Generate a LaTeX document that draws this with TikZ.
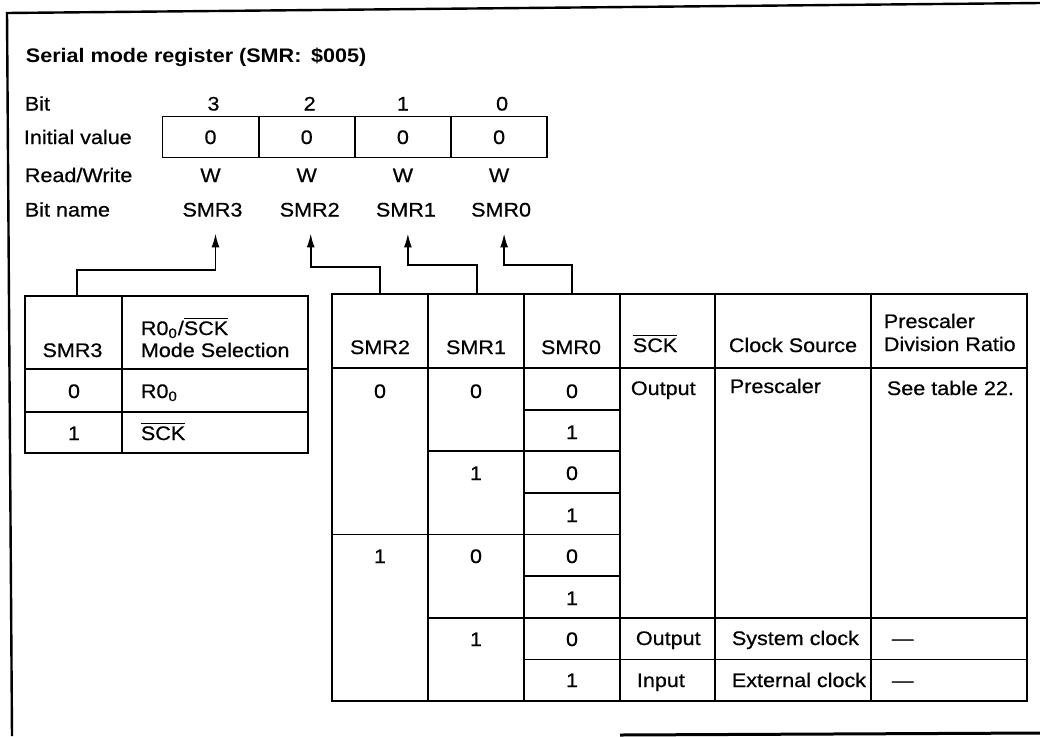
\documentclass[tikz,border=0pt]{standalone}
\usepackage{fontspec}
\setmainfont{Liberation Sans}[FakeStretch=1.10, UprightFeatures={FakeBold=0.6}]
\usetikzlibrary{arrows.meta,positioning}

\begin{document}
\begin{tikzpicture}[x=0.5pt,y=-0.5pt,>={Latex[length=7pt,width=4pt]},line width=0.9pt]
		\tikzstyle{txt}=[inner sep=0pt, text height=7pt, text depth=0pt, font=\fontsize{9.8}{11}\selectfont]
		\tikzstyle{regcell}=[txt, draw, minimum width=48.1pt, minimum height=20.5pt]
		\tikzstyle{borderline}=[line width=1.2pt]

		\useasboundingbox (0,0) rectangle (1040,736);

		% frame
		\draw[borderline] (6,13) -- (1040,3);
		\draw[borderline] (7,12) -- (12,736);
		\draw[borderline, line width=1.5pt] (620,735) -- (1040,733);

		\node [txt, anchor=west, font=\fontsize{9.8}{11}\selectfont\bfseries] (title) at (25,55) {Serial mode register (SMR:\enspace\$005)};

		% row labels
		\node [txt, anchor=west] (lbit) at (24,103.5) {Bit};
		\node [txt, anchor=west] (linit) at (23,137) {Initial value};
		\node [txt, anchor=west] (lrw) at (24,175) {Read/Write};
		\node [txt, anchor=west] (lname) at (24,209.5) {Bit name};

		% register
		\node [regcell] (v3) at (210.5,137) {0};
		\node [regcell, node distance=48.1pt] (v2) [right of=v3] {0};
		\node [regcell, node distance=48.1pt] (v1) [right of=v2] {0};
		\node [regcell, node distance=48.1pt] (v0) [right of=v1] {0};
		\node [txt, node distance=16.75pt] (b3) [above of=v3, xshift=1.5pt] {3};
		\node [txt, node distance=16.75pt] (b2) [above of=v2, xshift=1.5pt] {2};
		\node [txt, node distance=16.75pt] (b1) [above of=v1] {1};
		\node [txt, node distance=16.75pt] (b0) [above of=v0, xshift=1.5pt] {0};
		\node [txt, node distance=19pt] (w3) [below of=v3] {W};
		\node [txt, node distance=19pt] (w2) [below of=v2] {W};
		\node [txt, node distance=19pt] (w1) [below of=v1] {W};
		\node [txt, node distance=19pt] (w0) [below of=v0] {W};
		\node [txt, node distance=17.25pt] (n3) [below of=w3, xshift=1pt] {SMR3};
		\node [txt, node distance=17.25pt] (n2) [below of=w2, xshift=1.5pt] {SMR2};
		\node [txt, node distance=17.25pt] (n1) [below of=w1, xshift=1.5pt] {SMR1};
		\node [txt, node distance=17.25pt] (n0) [below of=w0, xshift=1pt] {SMR0};

		% SMR3 table
		\draw (25,296) rectangle (308,453);
		\draw (122,296) -- (122,453);
		\draw (25,369) -- (308,369);
		\draw (25,412) -- (308,412);
		\node [txt] (h3) at (72.5,350) {SMR3};
		\node [txt, anchor=west] (hsel1) at (140,328) {R0\textsubscript{0}/$\overline{\mbox{SCK}}$};
		\node [txt, anchor=west] (hsel2) at (140,350) {Mode Selection};
		\node [txt] (s0) at (74,391) {0};
		\node [txt, anchor=west] (m0) at (140,391) {R0\textsubscript{0}};
		\node [txt] (s1) at (74,433) {1};
		\node [txt, anchor=west] (m1) at (140,433) {$\overline{\mbox{SCK}}$};

		% clock table
		\draw (332,294) rectangle (1027,701);
		\draw (332,368) -- (1027,368);
		\draw (428,294) -- (428,701);
		\draw (524,294) -- (524,701);
		\draw (620,294) -- (620,701);
		\draw (715,294) -- (715,701);
		\draw (871,294) -- (871,701);
		\draw (524,409.6) -- (620,409.6);
		\draw (428,451.3) -- (620,451.3);
		\draw (524,492.9) -- (620,492.9);
		\draw (332,534.5) -- (620,534.5);
		\draw (524,576.1) -- (620,576.1);
		\draw (428,617.8) -- (1027,617.8);
		\draw (524,659.4) -- (1027,659.4);

		\node [txt] (h2) at (380,347) {SMR2};
		\node [txt] (h1) at (476,347) {SMR1};
		\node [txt] (h0) at (571,347) {SMR0};
		\node [txt, anchor=west] (hsck) at (632,345) {$\overline{\mbox{SCK}}$};
		\node [txt, anchor=west] (hsrc) at (728,345) {Clock Source};
		\node [txt, anchor=west] (hdiv1) at (883,321) {Prescaler};
		\node [txt, anchor=west] (hdiv2) at (883,344) {Division Ratio};

		\node [txt] (a0) at (380,391) {0};
		\node [txt] (a4) at (380,556) {1};
		\node [txt] (b0r) at (476,391) {0};
		\node [txt] (b2r) at (476,473) {1};
		\node [txt] (b4r) at (476,556) {0};
		\node [txt] (b6r) at (476,639) {1};
		\node [txt] (c0r) at (572,391) {0};
		\node [txt] (c1r) at (572,432) {1};
		\node [txt] (c2r) at (572,473) {0};
		\node [txt] (c3r) at (572,515) {1};
		\node [txt] (c4r) at (572,556) {0};
		\node [txt] (c5r) at (572,598) {1};
		\node [txt] (c6r) at (572,639) {0};
		\node [txt] (c7r) at (572,680) {1};
		\node [txt, anchor=west] (sck0) at (630,388) {Output};
		\node [txt, anchor=west] (sck6) at (635,638) {Output};
		\node [txt, anchor=west] (sck7) at (636,680) {Input};
		\node [txt, anchor=west] (src0) at (729,386) {Prescaler};
		\node [txt, anchor=west] (src6) at (731,638) {System clock};
		\node [txt, anchor=west] (src7) at (731,680) {External clock};
		\node [txt, anchor=west] (div0) at (886,388) {See table 22.};
		\node [txt, anchor=west] (div6) at (891,638) {---};
		\node [txt, anchor=west] (div7) at (891,680) {---};

		% connectors
		\coordinate (lt) at (77,296);
		\coordinate (rt2) at (380,294);
		\coordinate (rt1) at (477,294);
		\coordinate (rt0) at (572,294);
		\draw [->] (lt) -- ++(0,-26) -| ([xshift=1.5pt,yshift=-8pt]n3.south);
		\draw [->] (rt2) -- ++(0,-27) -| ([xshift=0.5pt,yshift=-8pt]n2.south);
		\draw [->] (rt1) -- ++(0,-29) -| ([xshift=1pt,yshift=-8pt]n1.south);
		\draw [->] (rt0) -- ++(0,-29) -| ([xshift=1.5pt,yshift=-8pt]n0.south);
	\end{tikzpicture}
\end{document}
